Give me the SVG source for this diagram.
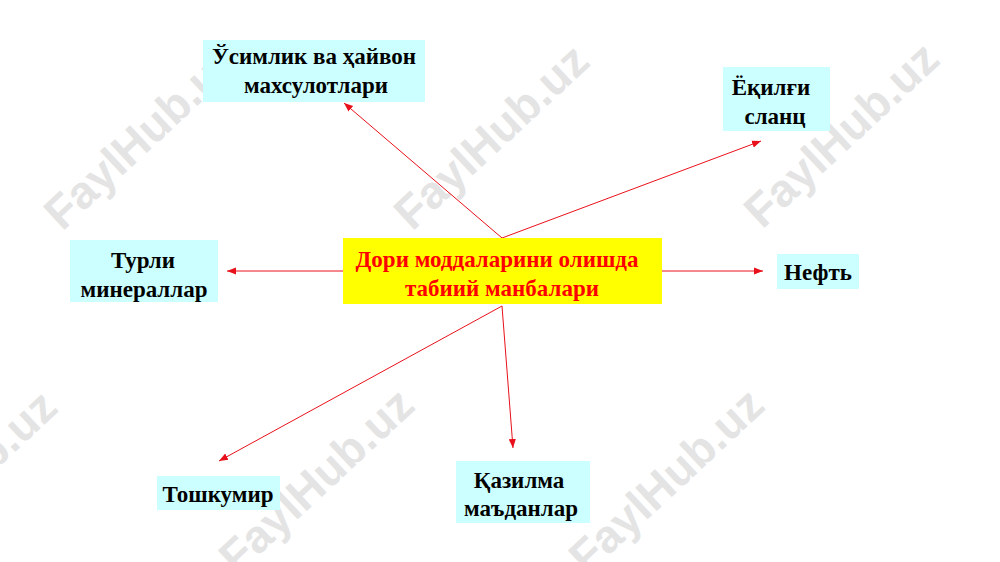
<svg xmlns="http://www.w3.org/2000/svg" width="1000" height="562" viewBox="0 0 1000 562">
  <defs>
    <style>
      .box{fill:#ccffff}
      .t{font-family:"Liberation Serif","DejaVu Serif",serif;font-weight:bold;font-size:23px;fill:#000;text-anchor:middle}
      .red{fill:#ff0000}
      .wm{font-family:"Liberation Sans","DejaVu Sans",sans-serif;font-weight:bold;font-size:46px;fill:#e4e4e4;text-anchor:middle}
      .c{stroke:#e8101a;stroke-width:1;fill:none;marker-end:url(#ah)}
    </style>
    <marker id="ah" viewBox="0 0 10 10" refX="10" refY="5" markerWidth="9" markerHeight="9" markerUnits="userSpaceOnUse" orient="auto">
      <path d="M0,1 L10,5 L0,9 z" fill="#e8101a"/>
    </marker>
  </defs>
  <rect width="1000" height="562" fill="#ffffff"/>
  <g id="watermarks">
    <text class="wm" transform="translate(152,148) rotate(-43)">FaylHub.uz</text>
    <text class="wm" transform="translate(502,148) rotate(-43)">FaylHub.uz</text>
    <text class="wm" transform="translate(852,146) rotate(-43)">FaylHub.uz</text>
    <text class="wm" transform="translate(-30,494) rotate(-43)">FaylHub.uz</text>
    <text class="wm" transform="translate(327,492) rotate(-43)">FaylHub.uz</text>
    <text class="wm" transform="translate(677,492) rotate(-43)">FaylHub.uz</text>
  </g>
  <g id="connectors">
    <line class="c" x1="502" y1="238" x2="344" y2="103"/>
    <line class="c" x1="502" y1="238" x2="761" y2="141"/>
    <line class="c" x1="343" y1="271" x2="227" y2="271"/>
    <line class="c" x1="662" y1="271" x2="763" y2="271"/>
    <line class="c" x1="502" y1="306" x2="219" y2="461"/>
    <line class="c" x1="502" y1="306" x2="513" y2="448"/>
  </g>
  <g id="center">
    <rect x="343" y="238" width="319" height="66" fill="#ffff00"/>
    <text class="t red" x="497" y="267">Дори моддаларини олишда</text>
    <text class="t red" x="502" y="296">табиий манбалари</text>
  </g>
  <g id="n-usimlik">
    <rect class="box" x="203" y="40" width="222" height="62"/>
    <text class="t" x="314" y="64">Ўсимлик ва ҳайвон</text>
    <text class="t" x="316" y="93">махсулотлари</text>
  </g>
  <g id="n-yoqilgi">
    <rect class="box" x="723" y="67" width="107" height="64"/>
    <text class="t" x="771" y="95">Ёқилғи</text>
    <text class="t" x="775" y="124">сланц</text>
  </g>
  <g id="n-turli">
    <rect class="box" x="70" y="240" width="148" height="62"/>
    <text class="t" x="143" y="268">Турли</text>
    <text class="t" x="144" y="297">минераллар</text>
  </g>
  <g id="n-neft">
    <rect class="box" x="777" y="254" width="82" height="35"/>
    <text class="t" x="818" y="280">Нефть</text>
  </g>
  <g id="n-toshkumir">
    <rect class="box" x="157" y="476" width="123" height="34"/>
    <text class="t" x="218" y="502">Тошкумир</text>
  </g>
  <g id="n-qazilma">
    <rect class="box" x="456" y="461" width="134" height="62"/>
    <text class="t" x="519" y="488">Қазилма</text>
    <text class="t" x="521" y="516">маъданлар</text>
  </g>
</svg>
